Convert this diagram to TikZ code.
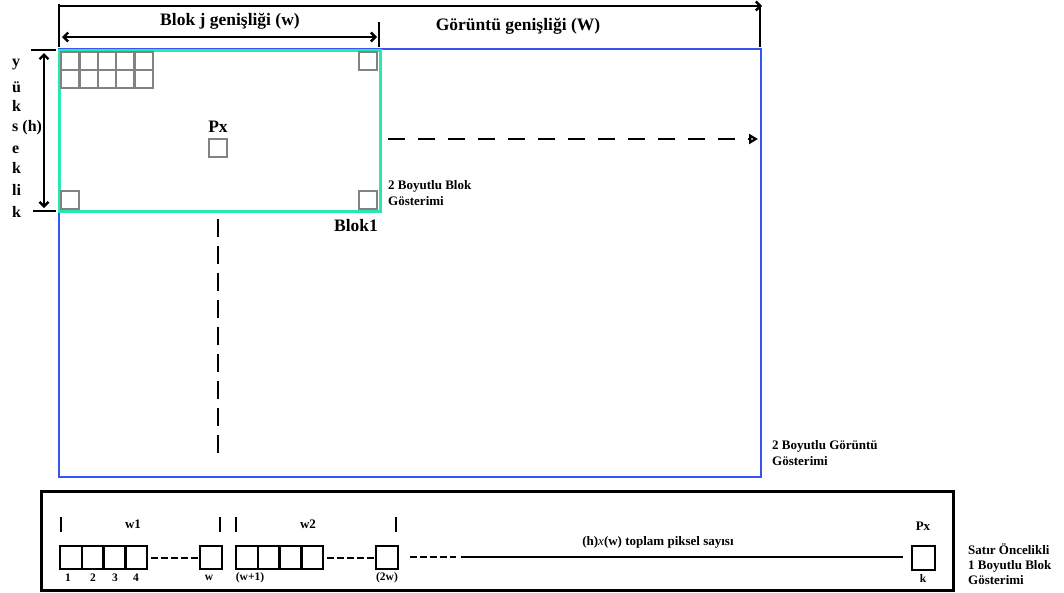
\documentclass[tikz,border=0pt]{standalone}
\usepackage{fontspec}
\setmainfont{Liberation Serif}
\usetikzlibrary{arrows.meta}
\definecolor{imgblue}{RGB}{55,85,240}
\definecolor{blkgreen}{RGB}{40,232,178}
\definecolor{pixgray}{RGB}{130,130,130}
\begin{document}
\begin{tikzpicture}[x=1pt,y=-1pt,
  big/.style={font=\fontsize{17.5}{20}\selectfont\bfseries,inner sep=0pt},
  sml/.style={font=\fontsize{13}{16}\selectfont\bfseries,inner sep=0pt,align=left},
  num/.style={font=\fontsize{11.5}{13}\selectfont\bfseries,inner sep=0pt},
  pix/.style={draw=pixgray,line width=2.4pt},
  cell/.style={draw=black,line width=2.4pt},
  blk/.style={line width=2.4pt},
  dim/.style={line width=2.4pt,{Straight Barb[length=4.5pt,width=9pt]}-{Straight Barb[length=4.5pt,width=9pt]}}]
  \useasboundingbox (0,0) rectangle (1064,592);
  % 2D image and block
  \coordinate (I1) at (59,49);
  \coordinate (I2) at (761,477);
  \coordinate (B1) at (59,50);
  \coordinate (B2) at (380,211);
  \draw[imgblue,line width=2.8pt] (I1) rectangle (I2);
  \draw[blkgreen,line width=3pt] (B1) rectangle (B2);
  % pixels inside the block
  \foreach \i in {0,...,4}
    \foreach \j in {0,1}
      \draw[pix] (61+\i*18.4,52+\j*18) rectangle ++(18.4,18);
  \draw[pix] (359,52) rectangle ++(18,18);
  \draw[pix] (61,191) rectangle ++(18,18);
  \draw[pix] (359,191) rectangle ++(18,18);
  \draw[pix] (209,139) rectangle ++(18,18);
  \node[big] (px) at (218,127) {Px};
  \node[big] (blok1) at (356,226) {Blok1};
  % widths
  \coordinate (TL) at (59,6);
  \coordinate (TR) at (760,6);
  \draw[blk] (59,47) -- (59,4);
  \draw[blk,-{Straight Barb[length=4.5pt,width=9pt]}] (TL) -- ([xshift=2pt]TR);
  \draw[blk] (TR) -- (760,47);
  \draw[dim] (62,37) -- (377,37);
  \draw[blk] (379,22) -- (379,47);
  \node[big] (bw) at (230,21) {Blok j genişliği (w)};
  \node[big] (iw) at (518,26) {Görüntü genişliği (W)};
  % height
  \draw[blk] (31,50) -- (56,50);
  \draw[blk] (33,211) -- (56,211);
  \draw[dim] (44,53) -- (44,208);
  \foreach \t/\y in {y/65,ü/87,k/106,s (h)/128,e/150,k/168,li/190,k/212}
    \node[font=\fontsize{16}{18}\selectfont\bfseries,inner sep=0pt,anchor=west] at (12,\y) {\t};
  % scan directions
  \draw[line width=2.6pt,dash pattern=on 17pt off 13pt,-{Triangle[open,length=9pt,width=10pt,line width=2.4pt]}] (388,139) -- (758,139);
  \draw[line width=2.8pt,dash pattern=on 18pt off 9pt] (218,219) -- (218,460);
  \node[sml,anchor=north west] (bg) at (388,180) {2 Boyutlu Blok\\Gösterimi};
  \node[sml,anchor=north west] (ig) at (772,440) {2 Boyutlu Görüntü\\Gösterimi};
  % 1D row-major block
  \draw[line width=3pt] (41,491) rectangle (953,590);
  \foreach \x in {61,220,236,396}
    \draw[line width=2.6pt] (\x,517) -- (\x,532);
  \node[sml] (w1) at (133,524) {w1};
  \node[sml] (w2) at (308,524) {w2};
  \foreach \i in {0,...,3} {
    \draw[cell] (60+\i*21.8,546) rectangle ++(21.8,23);
    \draw[cell] (236+\i*21.8,546) rectangle ++(21.8,23);
  }
  \draw[cell] (200,546) rectangle ++(22,23);
  \draw[cell] (376,546) rectangle ++(22,23);
  \draw[cell] (912,546) rectangle ++(23,24);
  \draw[line width=2.4pt,dash pattern=on 7pt off 3pt] (151,558) -- (198,558);
  \draw[line width=2.4pt,dash pattern=on 7pt off 3pt] (327,558) -- (374,558);
  \draw[line width=2.4pt,dash pattern=on 7pt off 3pt] (410,557) -- (456,557);
  \draw[line width=2.4pt] (461,557) -- (903,557);
  \node[sml] (tot) at (658,542) {(h){\mdseries\itshape x}(w) toplam piksel sayısı};
  \node[sml] (pxk) at (923,526) {Px};
  \foreach \t/\x in {1/68,2/93,3/115,4/136,w/209,(w+1)/250,(2w)/387,k/923}
    \node[num] at (\x,578) {\t};
  \node[sml,anchor=north west,font=\fontsize{13}{15}\selectfont\bfseries] (rg) at (968,543) {Satır Öncelikli\\1 Boyutlu Blok\\Gösterimi};
\end{tikzpicture}
\end{document}
